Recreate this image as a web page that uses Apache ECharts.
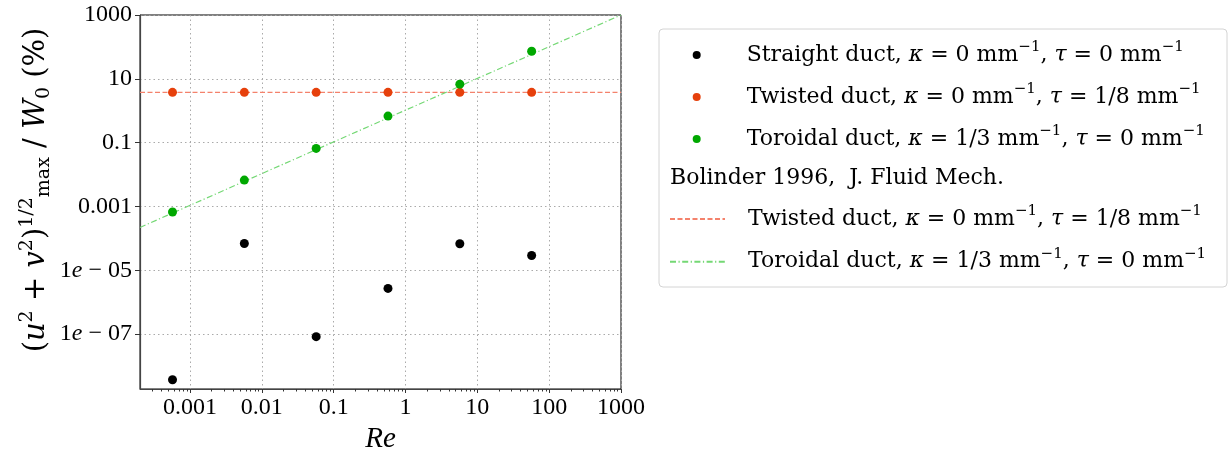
<!DOCTYPE html>
<html><head><meta charset="utf-8">
<script src="https://cdn.jsdelivr.net/npm/echarts@6/dist/echarts.min.js"></script>
<style>html,body{margin:0;padding:0;background:#fff}#c{width:1232px;height:450px}</style>
</head><body><div id="c"></div>
<script>
// ---- data ----
const reynolds = [5.7e-4, 5.7e-3, 0.057, 0.57, 5.7, 57];
const straightDuct = [3.7e-9, 6.9e-5, 8.3e-8, 2.7e-6, 6.8e-5, 2.9e-5];
const twistedDuct = [3.76, 3.76, 3.76, 3.76, 3.76, 3.76];
const toroidalDuct = [6.7e-4, 6.7e-3, 0.066, 0.68, 6.8, 73];
const bolinderRe = [2.01e-4, 1000];
const bolinderTwisted = [3.76, 3.76];
const bolinderToroidal = [2.2e-4, 1000];
const xTickValues = [0.001, 0.01, 0.1, 1, 10, 100, 1000];
const xTickLabels = ['0.001', '0.01', '0.1', '1', '10', '100', '1000'];
const yTickValues = [1e-7, 1e-5, 1e-3, 0.1, 10, 1000];
const yTickLabels = ['1e − 07', '1e − 05', '0.001', '0.1', '10', '1000'];
const seriesNames = ['straight', 'twisted', 'toroidal', 'bolTwisted', 'bolToroidal'];
const legendLabels = [
  '{sp| }Straight duct, {i|κ} = 0 mm{sup|−1}, {i|τ} = 0 mm{sup|−1}',
  '{sp| }Twisted duct, {i|κ} = 0 mm{sup|−1}, {i|τ} = 1/8 mm{sup|−1}',
  '{sp| }Toroidal duct, {i|κ} = 1/3 mm{sup|−1}, {i|τ} = 0 mm{sup|−1}',
  '{sp2| }Twisted duct, {i|κ} = 0 mm{sup|−1}, {i|τ} = 1/8 mm{sup|−1}',
  '{sp2| }Toroidal duct, {i|κ} = 1/3 mm{sup|−1}, {i|τ} = 0 mm{sup|−1}'
];
const legendTitle = 'Bolinder 1996,  J. Fluid Mech.';
const xMin = 2.01e-4, xMax = 1000, yMin = 1.9e-9, yMax = 1000;

// minor ticks of the log x axis (2..9 x each decade)
const xMinorTicks = [];
for (let e = -4; e <= 2; e++) for (let m = 2; m <= 9; m++) {
  const v = m * Math.pow(10, e);
  if (v > xMin && v < xMax) xMinorTicks.push(v);
}

const TICKFONT = 'Liberation Serif';
const TXTFONT = 'DejaVu Serif';
const pair = (xs, ys) => xs.map((x, i) => [x, ys[i]]);
const richLegend = {
  i: { fontFamily: TXTFONT, fontStyle: 'italic', fontSize: 22, color: '#000' },
  sup: { fontFamily: TXTFONT, fontSize: 15, color: '#000', verticalAlign: 'top', lineHeight: 15 },
  sp: { width: 41 },
  sp2: { width: 18 }
};
const fmtLegend = name => legendLabels[seriesNames.indexOf(name)];
const findLabel = (vals, labs, v) => {
  let best = 0;
  vals.forEach((t, k) => { if (Math.abs(Math.log10(t) - Math.log10(v)) < Math.abs(Math.log10(vals[best]) - Math.log10(v))) best = k; });
  return labs[best];
};

const chart = echarts.init(document.getElementById('c'), null, { renderer: 'canvas' });
chart.setOption({
  animation: false,
  backgroundColor: '#fff',
  textStyle: { fontFamily: TICKFONT },
  grid: { left: 140, right: 611, top: 15, bottom: 61, containLabel: false, outerBoundsMode: 'none',
    show: true, borderColor: '#000', borderWidth: 1, backgroundColor: 'transparent' },
  xAxis: [{
    type: 'log', min: xMin, max: xMax, position: 'bottom',
    name: 'Re', nameLocation: 'middle', nameGap: 35,
    nameTextStyle: { fontFamily: TICKFONT, fontStyle: 'italic', fontSize: 29, color: '#000' },
    axisLine: { show: true, lineStyle: { color: '#444', width: 1.2 } },
    axisTick: { show: true, inside: false, length: 4, customValues: xTickValues, lineStyle: { color: '#333' } },
    axisLabel: { show: true, customValues: xTickValues, margin: 7, fontFamily: TICKFONT, fontSize: 24, color: '#000',
      formatter: v => findLabel(xTickValues, xTickLabels, v) },
    splitLine: { show: true, lineStyle: { type: [1.5, 3], color: '#aaaaaa', width: 1 } }
  }, {
    type: 'log', min: xMin, max: xMax, position: 'bottom',
    axisLine: { show: false },
    axisTick: { show: true, inside: false, length: 2.5, customValues: xMinorTicks, lineStyle: { color: '#333' } },
    axisLabel: { show: false }, splitLine: { show: false }
  }],
  yAxis: {
    type: 'log', min: yMin, max: yMax,
    name: '({i|u}{sup|2} + {i|v}{sup|2}){sup|1/2}{sub|max} / {i|W}{sub|0} (%)',
    nameLocation: 'middle', nameRotate: 90, nameGap: 86,
    nameTextStyle: { fontFamily: TXTFONT, fontSize: 29, color: '#000', lineHeight: 36, padding: [0, 0, 0, 24],
      rich: {
        i: { fontFamily: TXTFONT, fontStyle: 'italic', fontSize: 29, color: '#000' },
        sup: { fontFamily: TXTFONT, fontSize: 19, color: '#000', verticalAlign: 'top', lineHeight: 17 },
        sub: { fontFamily: TXTFONT, fontSize: 19, color: '#000', verticalAlign: 'bottom', lineHeight: 15 }
      } },
    axisLine: { show: true, lineStyle: { color: '#444', width: 1.2 } },
    axisTick: { show: true, inside: false, length: 5, customValues: yTickValues, lineStyle: { color: '#333' } },
    axisLabel: { show: true, customValues: yTickValues, margin: 8, fontFamily: TICKFONT, fontSize: 24, color: '#000',
      formatter: v => findLabel(yTickValues, yTickLabels, v).replace('e', '{i|e}'),
      rich: { i: { fontFamily: TICKFONT, fontStyle: 'italic', fontSize: 24, color: '#000' } } },
    splitLine: { show: true, lineStyle: { type: [1.5, 3], color: '#aaaaaa', width: 1 } }
  },
  legend: [{
    data: ['straight', 'twisted', 'toroidal'],
    orient: 'vertical', left: 692.7, top: 40, padding: 0, itemWidth: 8, itemHeight: 8, itemGap: 12,
    formatter: fmtLegend, selectedMode: false, icon: 'circle',
    textStyle: { fontFamily: TXTFONT, fontSize: 22, color: '#000', lineHeight: 30, rich: richLegend }
  }, {
    data: ['bolTwisted', 'bolToroidal'],
    orient: 'vertical', left: 669, top: 204, padding: 0, itemWidth: 55, itemHeight: 10, itemGap: 12.7,
    formatter: fmtLegend, selectedMode: false,
    itemStyle: { color: 'rgba(0,0,0,0)', borderWidth: 0 },
    textStyle: { fontFamily: TXTFONT, fontSize: 22, color: '#000', lineHeight: 30, rich: richLegend }
  }],
  graphic: [{
    type: 'rect', z: -10, silent: true,
    shape: { x: 659, y: 29, width: 568, height: 258, r: 4 },
    style: { fill: '#fff', stroke: '#d4d4d4', lineWidth: 1 }
  }, {
    type: 'text', z: 10, silent: true, x: 670, y: 178,
    style: { text: legendTitle, fontFamily: TXTFONT, fontSize: 22, fill: '#000', align: 'left', verticalAlign: 'middle' }
  }],
  series: [
    { name: 'bolTwisted', type: 'line', data: pair(bolinderRe, bolinderTwisted), showSymbol: false, symbol: 'none', z: 1,
      lineStyle: { color: '#f4826c', width: 1.2, type: [5, 2.5] }, itemStyle: { color: '#f4826c' } },
    { name: 'bolToroidal', type: 'line', data: pair(bolinderRe, bolinderToroidal), showSymbol: false, symbol: 'none', z: 1,
      lineStyle: { color: '#74d874', width: 1.2, type: [6, 2.5, 1.2, 2.5] }, itemStyle: { color: '#74d874' } },
    { name: 'straight', type: 'scatter', data: pair(reynolds, straightDuct), symbol: 'circle', symbolSize: 9, z: 3,
      itemStyle: { color: '#000', opacity: 1 } },
    { name: 'twisted', type: 'scatter', data: pair(reynolds, twistedDuct), symbol: 'circle', symbolSize: 9, z: 3,
      itemStyle: { color: '#e6400c', opacity: 1 } },
    { name: 'toroidal', type: 'scatter', data: pair(reynolds, toroidalDuct), symbol: 'circle', symbolSize: 9, z: 3,
      itemStyle: { color: '#00a800', opacity: 1 } }
  ]
});
</script></body></html>
